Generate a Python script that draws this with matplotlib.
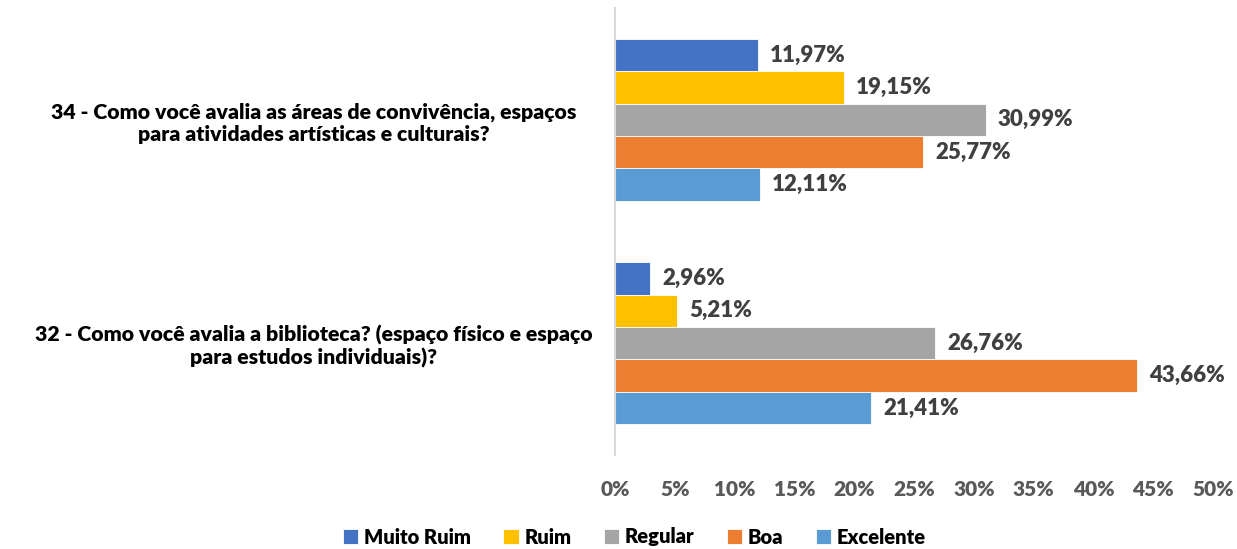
import numpy as np
import matplotlib.pyplot as plt

plt.rcParams['font.family'] = ['Lato', 'DejaVu Sans']
plt.rcParams['font.weight'] = 'heavy'

perguntas = ['34 - Como você avalia as áreas de convivência, espaços\npara atividades artísticas e culturais?',
             '32 - Como você avalia a biblioteca? (espaço físico e espaço\npara estudos individuais)?']
series = ['Muito Ruim', 'Ruim', 'Regular', 'Boa', 'Excelente']
cores = ['#4472C4', '#FFC000', '#A5A5A5', '#ED7D31', '#5B9BD5']
muito_ruim = [11.97, 2.96]
ruim = [19.15, 5.21]
regular = [30.99, 26.76]
boa = [25.77, 43.66]
excelente = [12.11, 21.41]
valores = [muito_ruim, ruim, regular, boa, excelente]

fig = plt.figure(figsize=(12.37, 5.49), dpi=100)
ax = fig.add_axes([615/1237, 1 - 455/549, 598/1237, 447/549])

y = np.arange(len(perguntas))
h = 0.145
for i, (nome, vals, cor) in enumerate(zip(series, valores, cores)):
    pos = y - 2 * h + i * h
    ax.barh(pos, vals, height=h, color=cor, edgecolor='white', linewidth=0.6, label=nome)
    for p, v in zip(pos, vals):
        ax.text(v + 1.0, p, f'{v:.2f}%'.replace('.', ','), va='center', ha='left',
                fontsize=16, fontweight='heavy', color='#404040')

ax.set_xlim(0, 50)
ax.set_ylim(1.5, -0.5)
ax.set_xticks(np.arange(0, 51, 5))
ax.set_xticklabels([f'{t}%' for t in range(0, 51, 5)], fontsize=15, color='#595959', fontweight='heavy')
ax.set_yticks(y)
ax.set_yticklabels(perguntas, fontsize=15.3, fontweight='heavy', color='black', ha='center',
                   multialignment='center')
# pad in points: label centre sits ~302 px left of the axis
ax.tick_params(axis='y', length=0, pad=217)
ax.tick_params(axis='x', length=0, pad=18)
for s in ['top', 'right', 'bottom']:
    ax.spines[s].set_visible(False)
ax.spines['left'].set_color('#D9D9D9')
ax.spines['left'].set_linewidth(1.5)

fig.legend(loc='center', bbox_to_anchor=(0.513, 1 - 537/549), ncol=5, frameon=False,
           handlelength=0.75, handleheight=0.75, handletextpad=0.3,
           columnspacing=1.6, prop={'weight': 'heavy', 'size': 14.5})

fig.savefig('out.png', dpi=100)
